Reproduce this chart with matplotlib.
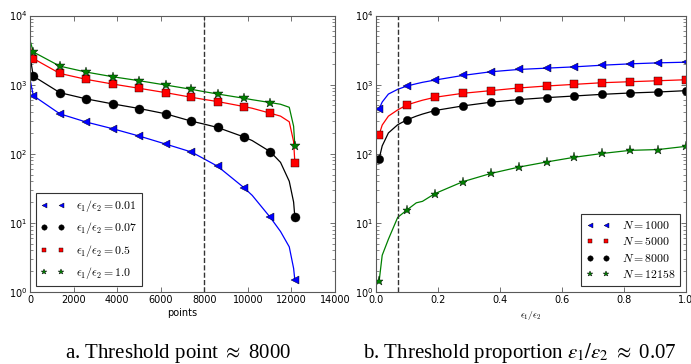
import matplotlib
matplotlib.use("Agg")
import matplotlib.pyplot as plt

# Left panel: sorted point index vs value, one series per eps1/eps2 ratio
pts_x = [0, 150, 1370, 2590, 3800, 5020, 6230, 7410, 8000, 8610, 9820,
         10200, 11030, 11500, 11900, 12100, 12158]
pts_marks = [1, 2, 3, 4, 5, 6, 7, 9, 10, 12, 16]
ratio_001 = [1200, 693, 378, 287, 230, 180, 138, 106, 84, 66, 32.3,
             25, 12, 7.5, 4.5, 2.2, 1.47]
ratio_007 = [2600, 1328, 765, 621, 526, 451, 378, 296, 268, 240, 175,
             155, 107, 75, 40, 20, 12]
ratio_05 = [3650, 2384, 1452, 1190, 1019, 884, 765, 656, 610, 569, 482,
            455, 386, 350, 290, 150, 74]
ratio_10 = [4400, 2970, 1850, 1517, 1300, 1138, 986, 855, 790, 732, 635,
            605, 550, 520, 470, 250, 128]

# Right panel: eps1/eps2 proportion vs value, one series per N
prop_x = [0.01, 0.02, 0.04, 0.07, 0.10, 0.13, 0.15, 0.19, 0.28, 0.37,
          0.46, 0.55, 0.64, 0.73, 0.82, 0.91, 1.0]
prop_marks = [0, 4, 7, 8, 9, 10, 11, 12, 13, 14, 15, 16]
n_1000 = [446, 560, 730, 855, 955, 1030, 1080, 1164, 1358, 1534, 1657,
          1731, 1808, 1910, 1998, 2065, 2112]
n_5000 = [188, 260, 350, 431, 509, 560, 595, 656, 749, 818, 894, 955,
          1009, 1066, 1102, 1138, 1177]
n_8000 = [84, 130, 200, 263, 310, 350, 375, 422, 492, 556, 607, 648,
          685, 724, 757, 782, 818]
n_12158 = [1.42, 3.4, 5.8, 12, 15.4, 19.5, 20.5, 26.5, 39.4, 51.8, 64,
           76, 89, 101, 112, 115, 128]

plt.rcParams['mathtext.fontset'] = 'cm'
plt.rcParams['axes.edgecolor'] = '0.35'
plt.rcParams['xtick.direction'] = 'in'
plt.rcParams['ytick.direction'] = 'in'
plt.rcParams['xtick.top'] = True
plt.rcParams['ytick.right'] = True

fig = plt.figure(figsize=(6.91, 3.64), dpi=100)
ax1 = fig.add_axes([30/691, 72/364, 305/691, 276.5/364])
ax2 = fig.add_axes([376/691, 72/364, 310/691, 276.5/364])

left_series = [
    (ratio_001, 'b', '<', 6, r'$\epsilon_1/\epsilon_2=0.01$'),
    (ratio_007, 'k', 'o', 6.5, r'$\epsilon_1/\epsilon_2=0.07$'),
    (ratio_05, 'r', 's', 6, r'$\epsilon_1/\epsilon_2=0.5$'),
    (ratio_10, (0, 0.5, 0), '*', 7, r'$\epsilon_1/\epsilon_2=1.0$'),
]
for vals, c, m, ms, lab in left_series:
    ax1.plot(pts_x, vals, color=c, lw=0.9)
    ax1.plot(pts_x, vals, ls='none', marker=m, ms=ms, color=c, mec='k',
             mew=0.3, markevery=pts_marks, label=lab)

right_series = [
    (n_1000, 'b', '<', 5.5, r'$N=1000$'),
    (n_5000, 'r', 's', 5.5, r'$N=5000$'),
    (n_8000, 'k', 'o', 6, r'$N=8000$'),
    (n_12158, (0, 0.5, 0), '*', 6.5, r'$N=12158$'),
]
for vals, c, m, ms, lab in right_series:
    ax2.plot(prop_x, vals, color=c, lw=0.9)
    ax2.plot(prop_x, vals, ls='none', marker=m, ms=ms, color=c, mec='k',
             mew=0.3, markevery=prop_marks, label=lab)

ax1.axvline(8000, color='0.2', ls='--', lw=1)
ax2.axvline(0.07, color='0.2', ls='--', lw=1)

ax1.set_xlim(0, 14000)
ax2.set_xlim(0, 1.0)
for ax in (ax1, ax2):
    ax.set_yscale('log')
    ax.set_ylim(1, 1e4)
    ax.tick_params(which='major', labelsize=7, length=3.5, width=0.6, color='0.35')
    ax.tick_params(which='minor', length=2, width=0.5, color='0.35')
    ax.tick_params(axis='x', pad=2)
    ax.tick_params(axis='y', pad=2)

ax1.set_xlabel('points', fontsize=7, labelpad=2)
ax2.set_xlabel(r'$\epsilon_1/\epsilon_2$', fontsize=7, labelpad=3)

for ax, loc, ms0, sp in ((ax1, 'lower left', 0.6, 0.55),
                         (ax2, 'lower right', 0.65, 0.3)):
    leg = ax.legend(loc=loc, numpoints=2, fontsize=8.5, markerscale=ms0,
                    fancybox=False, framealpha=1, edgecolor='0.2',
                    borderaxespad=0.5, handlelength=2.0, handletextpad=1.0,
                    labelspacing=sp)
    leg.get_frame().set_linewidth(0.8)

fig.text(178/691, 0.03, r'a. Threshold point $\approx$ 8000', ha='center',
         va='center', fontsize=15, family='Liberation Serif',
         math_fontfamily='stix')
fig.text(520/691, 0.03, r'b. Threshold proportion $\epsilon_1/\epsilon_2$ $\approx$ 0.07',
         ha='center', va='center', fontsize=15, family='Liberation Serif',
         math_fontfamily='stix')

fig.savefig('out.png', dpi=100)
